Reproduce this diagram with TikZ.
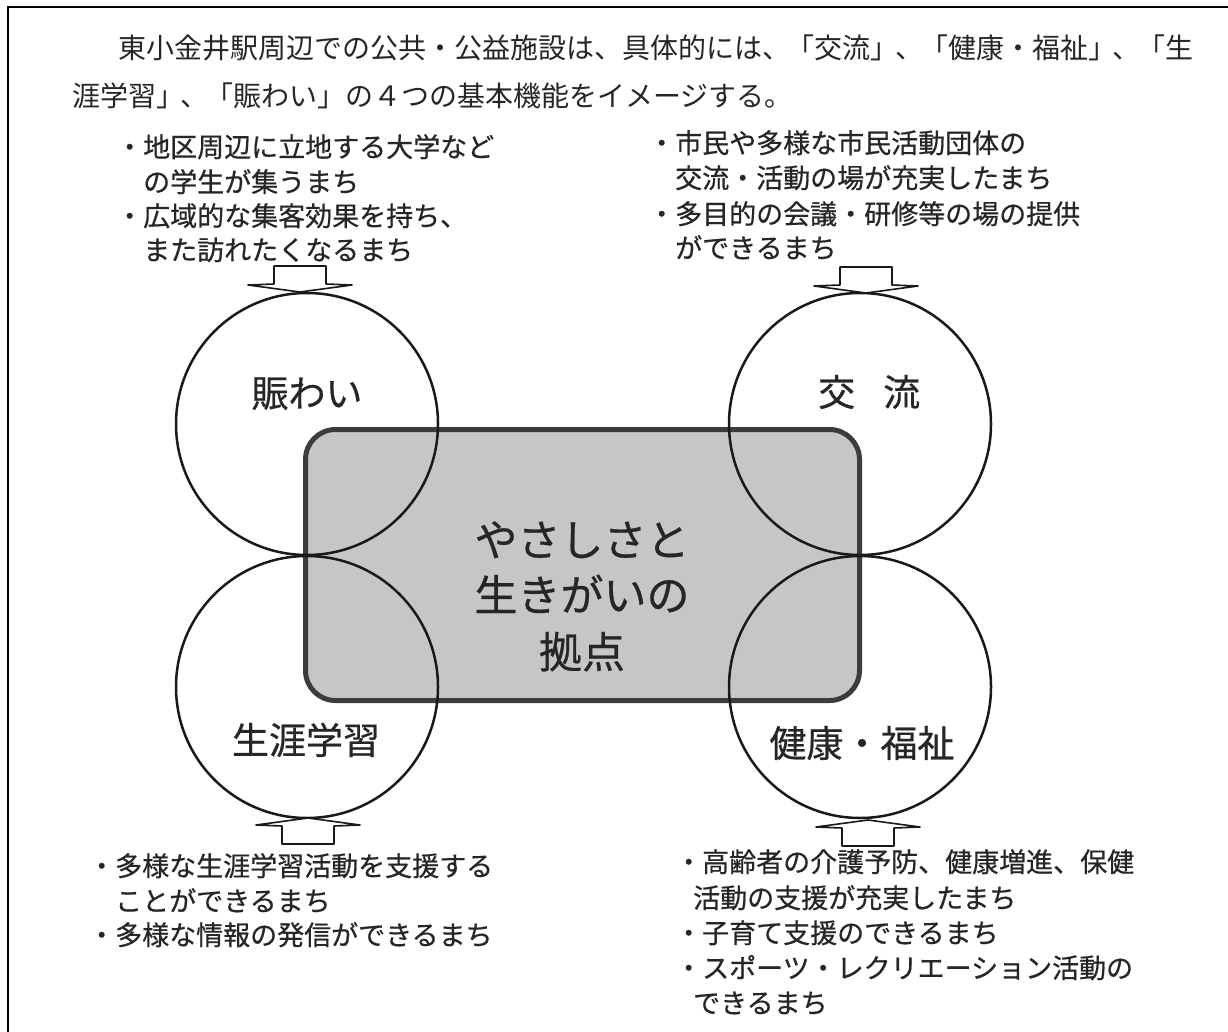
\documentclass[tikz,border=0pt]{standalone}
\usepackage{fontspec}
\newfontfamily\jp[FakeBold=0.6]{Noto Sans CJK JP}
\newfontfamily\jphead{Noto Sans CJK JP}
\definecolor{ink}{HTML}{262626}
\definecolor{boxfill}{HTML}{C6C6C6}
\definecolor{boxline}{HTML}{3C3C3C}
\newcommand\pk{\kern-0.12em}
\begin{document}
\begin{tikzpicture}[x=1pt,y=-1pt,
  txt/.style={anchor=base west,inner sep=0pt,text=ink,font=\jp\fontsize{27}{27}\selectfont},
  head/.style={anchor=base west,inner sep=0pt,text=ink,font=\jphead\fontsize{28}{28}\selectfont},
  lbl/.style={anchor=base,inner sep=0pt,text=ink,font=\jp\fontsize{37}{37}\selectfont},
  core/.style={anchor=base,inner sep=0pt,text=ink,font=\jp\fontsize{43}{43}\selectfont},
  circ/.style={circle,draw=black!90,line width=2.5pt,minimum size=262pt,inner sep=0pt},
  corebox/.style={rectangle,rounded corners=30pt,draw=boxline,fill=boxfill,line width=5pt,minimum width=554pt,minimum height=271pt,inner sep=0pt},
  arrowline/.style={draw=black!90,fill=white,line width=1.6pt,line join=round},
  pics/inarrow/.style={code={
    \path[arrowline] (-26,-26) -- (26,-26) -- (26,-8) -- (52,-7) -- (0,0) -- (-52,-7) -- (-26,-8) -- cycle;}}
]
\useasboundingbox (0,0) rectangle (1228,1032);
\clip (0,0) rectangle (1228,1032);
\fill[white] (0,0) rectangle (1228,1032);
% frame
\draw[line width=2.5pt,black] (8,1100) -- (8,7) -- (1300,7);

% heading
\node[head] (h1) at (118,59) {東小金井駅周辺での公共・公益施設は、具体的には、\pk「交流」\pk、\pk「健康・福祉」\pk、\pk「生};
\node[head] (h2) at (72,107) {涯学習」\pk、\pk「賑わい」の４つの基本機能をイメージする。};

% central box and circles
\node[corebox] (core) at (582.5,565) {};
\node[circ] (nigiwai) at (307,424) {};
\node[circ] (shogai) at (307,687) {};
\node[circ] (koryu) at (860,424) {};
\node[circ] (kenko) at (860,687) {};

\node[core] (c1) at (582,556) {やさしさと};
\node[core] (c2) at (582,611) {生きがいの};
\node[core] (c3) at (582,668) {拠点};

\node[lbl] (l1) at (307,407) {賑わい};
\node[lbl,anchor=base west] (l2) at (818,406) {交\hspace{28pt}流};
\node[lbl] (l3) at (306,754) {生涯学習};
\node[lbl] (l4) at (862,757) {健康・福祉};

% block arrows
\pic at (300,292) {inarrow};
\pic at (866,293) {inarrow};
\pic[rotate=180] at (308,818) {inarrow};
\pic[rotate=180] at (868,820) {inarrow};

% top-left
\node[txt] (tl1) at (116,157) {・地区周辺に立地する大学など};
\node[txt] (tl2) at (143,192) {の学生が集うまち};
\node[txt] (tl3) at (116,226) {・広域的な集客効果を持ち、};
\node[txt] (tl4) at (143,260) {また訪れたくなるまち};
% top-right
\node[txt] (tr1) at (648,153) {・市民や多様な市民活動団体の};
\node[txt] (tr2) at (675,188) {交流・活動の場が充実したまち};
\node[txt] (tr3) at (648,224) {・多目的の会議・研修等の場の提供};
\node[txt] (tr4) at (675,258) {ができるまち};
% bottom-left
\node[txt] (bl1) at (88,876) {・多様な生涯学習活動を支援する};
\node[txt] (bl2) at (115,911) {ことができるまち};
\node[txt] (bl3) at (88,945) {・多様な情報の発信ができるまち};
% bottom-right
\node[txt] (br1) at (675,872) {・高齢者の介護予防、健康増進、保健};
\node[txt] (br2) at (693,908) {活動の支援が充実したまち};
\node[txt] (br3) at (675,943) {・子育て支援のできるまち};
\node[txt] (br4) at (675,978) {・スポーツ・レクリエーション活動の};
\node[txt] (br5) at (693,1013) {できるまち};
\end{tikzpicture}
\end{document}
